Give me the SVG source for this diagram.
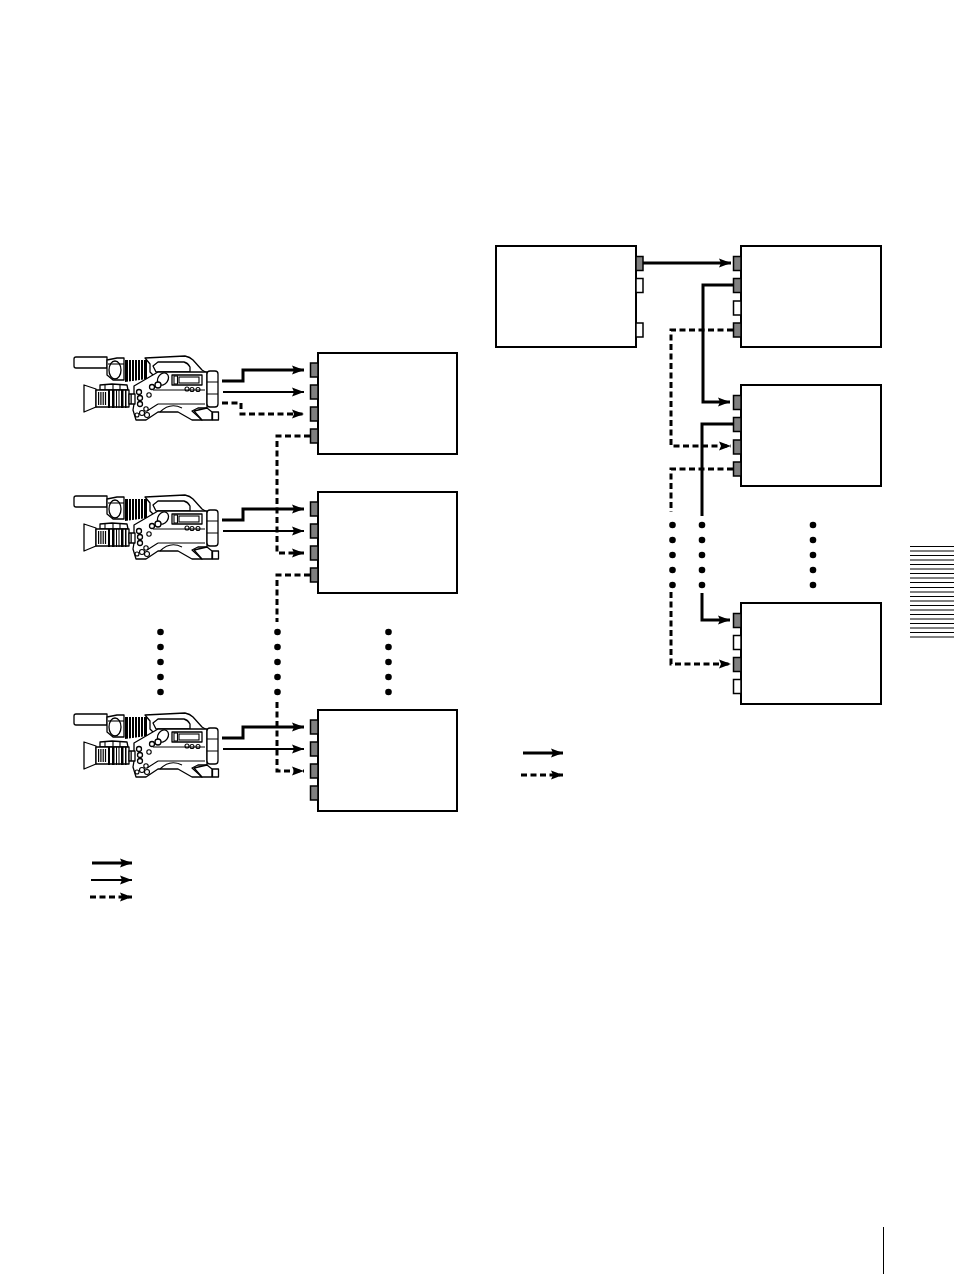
<svg xmlns="http://www.w3.org/2000/svg" width="954" height="1274" viewBox="0 0 954 1274">
<style>
.box{fill:#fff;stroke:#000;stroke-width:2}
.pg{fill:#808080;stroke:#000;stroke-width:1.5}
.pw{fill:#fff;stroke:#000;stroke-width:1.5}
.c{fill:none;stroke:#000}
.t{stroke-width:3}
.m{stroke-width:2}
.d{stroke-width:3;stroke-dasharray:6 3.5}
.a{marker-end:url(#ah)}
.dot{fill:#000}
.cam{fill:#fff;stroke:#000;stroke-width:1.3;stroke-linejoin:round}
.cb{fill:#000;stroke:none}
.cn{fill:none;stroke:#000;stroke-width:1.1}
</style>
<defs>
<marker id="ah" markerUnits="userSpaceOnUse" markerWidth="14" markerHeight="10" refX="12" refY="5" orient="auto">
<path d="M0 .5 L12 5 L0 9.500 L2 5 Z" fill="#000"/>
</marker>
<g id="camera">
<!-- handle and top of body -->
<path class="cam" d="M145 358L185 356Q190 357 193 360L202 370L207 373V380H158L150 372V364Z"/>
<path class="cam" d="M158 362H184Q188 363 190 367V372H156L153 366Z"/>
<!-- mic -->
<path class="cam" d="M76 357H107V368H76Q74 368 74 366V359Q74 357 76 357Z"/>
<!-- eyepiece -->
<path class="cam" d="M107 360L117 358H124V380H113L107 375Z"/>
<ellipse class="cam" cx="115" cy="370" rx="6" ry="9"/>
<path class="cn" d="M108 364H124"/>
<!-- ribs -->
<path class="cb" d="M125 360H147V379L125 382Z"/>
<path stroke="#fff" stroke-width="1" fill="none" d="M128.500 360V382M131.500 360V382M134.500 360V382M137.500 360V381M140.500 360V380M143.500 360V380"/>
<!-- body -->
<path class="cam" d="M134 386L146 379L158 372H207V408L198 408L192 411L202 420H192L178 412H158L146 420L136 420L133 410L134 404Z"/>
<path class="cn" d="M153 390H205M158 404H205M147 411L158 404M160 412Q170 402 182 408"/>
<ellipse class="cam" cx="163" cy="379" rx="5" ry="6.500" transform="rotate(35 163 379)"/>
<circle class="cam" cx="158" cy="385" r="3"/>
<circle class="cam" cx="152" cy="387" r="2.500"/>
<rect class="cam" x="172" y="375" width="30" height="10"/>
<rect class="cn" x="174" y="376" width="3.500" height="8"/>
<rect class="cn" x="179" y="377" width="20" height="6"/>
<circle class="cn" cx="187" cy="389" r="2"/><circle class="cn" cx="192" cy="389.500" r="2"/><circle class="cn" cx="198" cy="389.500" r="2"/>
<circle class="cn" cx="149" cy="395" r="2.200"/>
<circle class="cam" cx="139" cy="392" r="2.500"/><circle class="cam" cx="140" cy="398" r="2.500"/><circle class="cam" cx="140" cy="404" r="2.500"/>
<circle class="cn" cx="146" cy="409" r="2.200"/><circle class="cn" cx="142" cy="413" r="2.500"/><circle class="cn" cx="147" cy="415" r="2.500"/><circle class="cn" cx="137" cy="415" r="2"/>
<!-- battery and tail -->
<rect class="cam" x="207" y="371" width="11" height="36" rx="3"/>
<path class="cn" d="M207 382H218M207 394H218"/>
<path class="cam" d="M207 408L212 412V420H202L194 411Z"/>
<rect class="cam" x="212.500" y="412" width="6" height="8"/>
<!-- lens -->
<path class="cam" d="M84 385L96 389V407L84 412Z"/>
<path class="cam" d="M100 385L112 384L127 385L128 390H100Z"/>
<path class="cn" d="M105 385V390M113 384V390M120 384V390"/>
<rect class="cam" x="96" y="390" width="33" height="17"/>
<path class="cb" d="M98 392h1.200v13H98ZM100.300 392h1.200v13h-1.200ZM102.600 392h1.200v13h-1.200ZM104.900 392h1.200v13h-1.200ZM108 390h2v18h-2ZM112 390h2.500v18H112ZM116 390h1v18h-1ZM118.500 390h1v18h-1ZM121 390h2.500v18H121ZM125 390h1.500v18H125Z"/>
<rect class="cam" x="129" y="394" width="6" height="10"/>
<path class="cb" d="M130.500 394h1.300v10h-1.300Z"/>
</g>
</defs>
<g id="connectors">
<path class="c t a" d="M222 381H243V370H304"/>
<path class="c m a" d="M223 392H304"/>
<path class="c d a" d="M222 403H241V414H304"/>
<path class="c d a" d="M310 436H277V553H304"/>
<path class="c t a" d="M222 520H243V509H304"/>
<path class="c m a" d="M223 531H304"/>
<path class="c d" d="M310 575H277V622"/>
<path class="c d a" d="M277 702V771H304"/>
<path class="c t a" d="M222 738H243V727H304"/>
<path class="c m a" d="M223 749H304"/>
<path class="c t a" d="M643 263H731"/>
<path class="c t a" d="M733 285H703V402H730"/>
<path class="c t" d="M733 424H702V516"/>
<path class="c t a" d="M702 593V620H730"/>
<path class="c d a" d="M733 330H671V446H731"/>
<path class="c d" d="M733 469H671V512"/>
<path class="c d a" d="M671 592V664H731"/>
</g>
<use id="camera-1" href="#camera"/>
<use id="camera-2" href="#camera" y="139"/>
<use id="camera-3" href="#camera" y="357"/>
<g id="recorder-1">
<rect class="box" x="318" y="353" width="139" height="101"/>
<rect class="pg" x="310.500" y="363" width="7.500" height="14"/><rect class="pg" x="310.500" y="385" width="7.500" height="14"/><rect class="pg" x="310.500" y="407" width="7.500" height="14"/><rect class="pg" x="310.500" y="429" width="7.500" height="14"/>
</g>
<g id="recorder-2">
<rect class="box" x="318" y="492" width="139" height="101"/>
<rect class="pg" x="310.500" y="502" width="7.500" height="14"/><rect class="pg" x="310.500" y="524" width="7.500" height="14"/><rect class="pg" x="310.500" y="546" width="7.500" height="14"/><rect class="pg" x="310.500" y="568" width="7.500" height="14"/>
</g>
<g id="recorder-3">
<rect class="box" x="318" y="710" width="139" height="101"/>
<rect class="pg" x="310.500" y="720" width="7.500" height="14"/><rect class="pg" x="310.500" y="742" width="7.500" height="14"/><rect class="pg" x="310.500" y="764" width="7.500" height="14"/><rect class="pg" x="310.500" y="786" width="7.500" height="14"/>
</g>
<g id="source">
<rect class="box" x="496" y="246" width="140" height="101"/>
<rect class="pg" x="636" y="256.500" width="7" height="14"/><rect class="pw" x="636" y="278.500" width="7" height="14"/><rect class="pw" x="636" y="323" width="7" height="14"/>
</g>
<g id="deck-1">
<rect class="box" x="741" y="246" width="140" height="101"/>
<rect class="pg" x="733.500" y="256.500" width="7.500" height="14"/><rect class="pg" x="733.500" y="278.500" width="7.500" height="14"/><rect class="pw" x="733.500" y="301" width="7.500" height="14"/><rect class="pg" x="733.500" y="323" width="7.500" height="14"/>
</g>
<g id="deck-2">
<rect class="box" x="741" y="385" width="140" height="101"/>
<rect class="pg" x="733.500" y="395.500" width="7.500" height="14"/><rect class="pg" x="733.500" y="417.500" width="7.500" height="14"/><rect class="pg" x="733.500" y="440" width="7.500" height="14"/><rect class="pg" x="733.500" y="462" width="7.500" height="14"/>
</g>
<g id="deck-3">
<rect class="box" x="741" y="603" width="140" height="101"/>
<rect class="pg" x="733.500" y="613.500" width="7.500" height="14"/><rect class="pw" x="733.500" y="635.500" width="7.500" height="14"/><rect class="pg" x="733.500" y="657.500" width="7.500" height="14"/><rect class="pw" x="733.500" y="679.500" width="7.500" height="14"/>
</g>
<g id="dots" class="dot">
<circle cx="160.500" cy="632" r="3.300"/><circle cx="160.500" cy="647" r="3.300"/><circle cx="160.500" cy="662" r="3.300"/><circle cx="160.500" cy="677" r="3.300"/><circle cx="160.500" cy="692" r="3.300"/>
<circle cx="277.500" cy="632" r="3.300"/><circle cx="277.500" cy="647" r="3.300"/><circle cx="277.500" cy="662" r="3.300"/><circle cx="277.500" cy="677" r="3.300"/><circle cx="277.500" cy="692" r="3.300"/>
<circle cx="388.500" cy="632" r="3.300"/><circle cx="388.500" cy="647" r="3.300"/><circle cx="388.500" cy="662" r="3.300"/><circle cx="388.500" cy="677" r="3.300"/><circle cx="388.500" cy="692" r="3.300"/>
<circle cx="672.500" cy="525" r="3.300"/><circle cx="672.500" cy="540" r="3.300"/><circle cx="672.500" cy="555" r="3.300"/><circle cx="672.500" cy="570" r="3.300"/><circle cx="672.500" cy="585" r="3.300"/>
<circle cx="702" cy="525" r="3.300"/><circle cx="702" cy="540" r="3.300"/><circle cx="702" cy="555" r="3.300"/><circle cx="702" cy="570" r="3.300"/><circle cx="702" cy="585" r="3.300"/>
<circle cx="813" cy="525" r="3.300"/><circle cx="813" cy="540" r="3.300"/><circle cx="813" cy="555" r="3.300"/><circle cx="813" cy="570" r="3.300"/><circle cx="813" cy="585" r="3.300"/>
</g>
<g id="legend">
<path class="c t a" d="M92 863H132"/>
<path class="c m a" d="M91 880H132"/>
<path class="c d a" d="M90 897H132"/>
<path class="c t a" d="M523 753H563"/>
<path class="c d a" d="M521 775H563"/>
</g>
<g id="page-marks">
<path stroke="#000" stroke-width="1" fill="none" d="M910 546.500H954M910 551H954M910 555.500H954M910 560H954M910 564.500H954M910 569H954M910 573.500H954M910 578H954M910 582.500H954M910 587.500H954M910 592H954M910 596.500H954M910 601H954M910 605.500H954M910 610H954M910 614.500H954M910 619H954M910 623.500H954M910 628H954M910 632.500H954M910 637H954"/>
<path stroke="#000" stroke-width="1" fill="none" d="M883.500 1227V1274"/>
</g>
</svg>
